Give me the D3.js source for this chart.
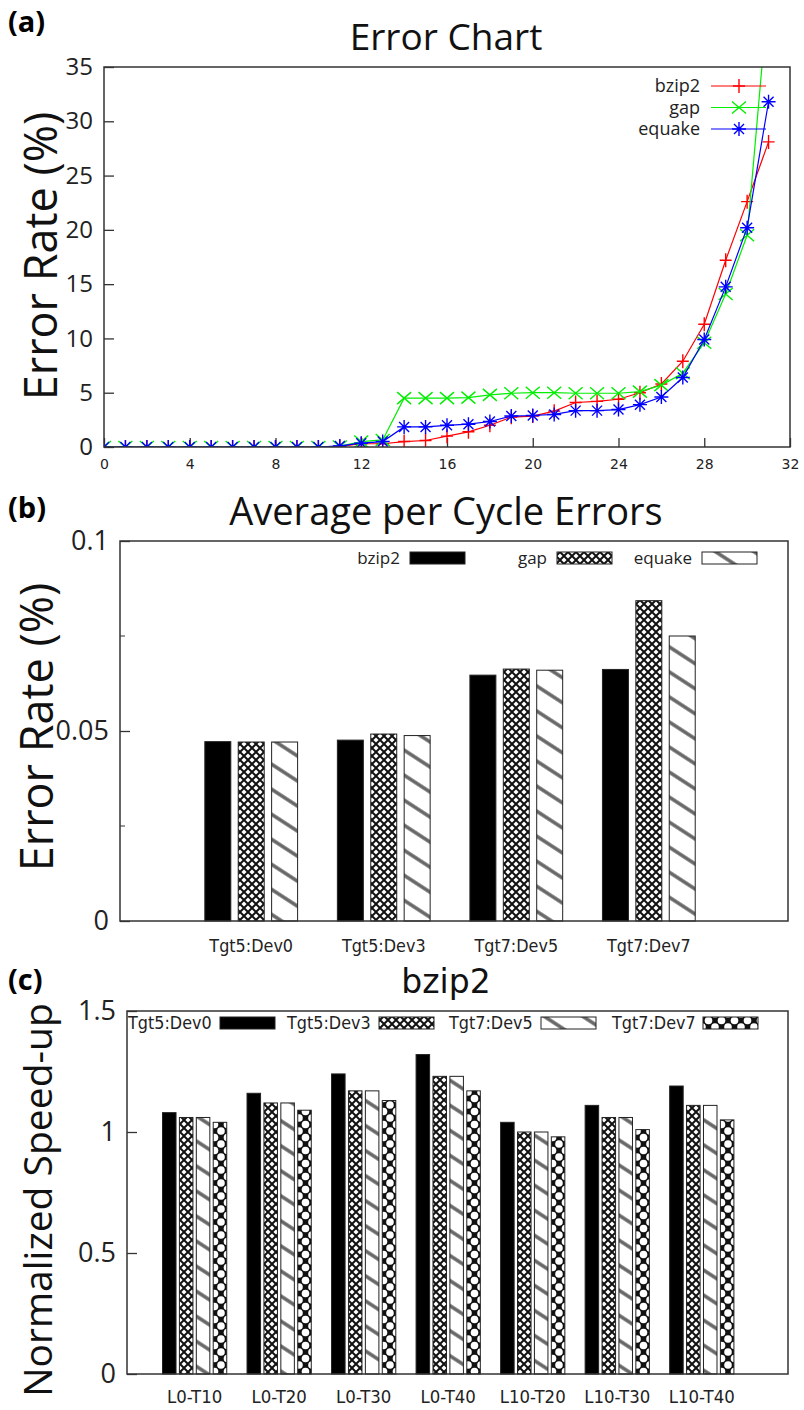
<!DOCTYPE html>
<html>
<head>
<meta charset="utf-8">
<script src="https://cdn.jsdelivr.net/npm/d3@7"></script>
<style>
body { margin: 0; background: #fff; }
svg { display: block; }
</style>
</head>
<body>
<div id="chart"></div>
<script>
// (a) error chart
const errX = [0, 1, 2, 3, 4, 5, 6, 7, 8, 9, 10, 11, 12, 13, 14, 15, 16, 17, 18, 19, 20, 21, 22, 23, 24, 25, 26, 27, 28, 29, 30, 31];
const bzip2Err = [0, 0, 0, 0, 0, 0, 0, 0, 0, 0, 0, 0.05, 0.3, 0.3, 0.5, 0.6, 1.0, 1.4, 2.0, 2.75, 2.85, 3.3, 4.1, 4.2, 4.4, 5.0, 5.8, 7.9, 11.3, 17.2, 22.6, 28.1];
const gapErr = [0, 0, 0, 0, 0, 0, 0, 0, 0, 0, 0, 0.05, 0.5, 0.65, 4.5, 4.5, 4.5, 4.55, 4.8, 4.95, 5.0, 5.0, 4.95, 4.95, 4.95, 5.1, 5.7, 6.8, 9.6, 14.1, 19.5, 42];
const equakeErr = [0, 0, 0, 0, 0, 0, 0, 0, 0, 0, 0, 0.1, 0.35, 0.5, 1.85, 1.85, 2.0, 2.1, 2.35, 2.85, 2.9, 3.0, 3.35, 3.35, 3.45, 3.9, 4.6, 6.4, 9.9, 14.75, 20.2, 31.8];
const errTicksX = [0, 4, 8, 12, 16, 20, 24, 28, 32];
const errTicksY = [0, 5, 10, 15, 20, 25, 30, 35];

// (b) average per cycle errors
const cycleGroups = ["Tgt5:Dev0", "Tgt5:Dev3", "Tgt7:Dev5", "Tgt7:Dev7"];
const cycleBzip2 = [0.0472, 0.0476, 0.0647, 0.0662];
const cycleGap = [0.0471, 0.0492, 0.0663, 0.0843];
const cycleEquake = [0.0471, 0.0488, 0.0660, 0.0750];
const cycleTicks = [0, 0.05, 0.1];
const cycleMinor = [0.025, 0.075];

// (c) bzip2 speed-up
const speedGroups = ["L0-T10", "L0-T20", "L0-T30", "L0-T40", "L10-T20", "L10-T30", "L10-T40"];
const speedDev0 = [1.08, 1.16, 1.24, 1.32, 1.04, 1.11, 1.19];
const speedDev3 = [1.06, 1.12, 1.17, 1.23, 1.00, 1.06, 1.11];
const speedDev5 = [1.06, 1.12, 1.17, 1.23, 1.00, 1.06, 1.11];
const speedDev7 = [1.04, 1.09, 1.13, 1.17, 0.98, 1.01, 1.05];
const speedTicks = [0, 0.5, 1, 1.5];

const W = 804, H = 1410;
const sans = "'Open Sans', 'DejaVu Sans', sans-serif";
const narrow = "'DejaVu Sans', sans-serif";
const inkText = "#222";

const svg = d3.select("#chart").append("svg")
    .attr("width", W)
    .attr("height", H);

//patterns used by the bars
const defs = svg.append("defs");
let pGap = defs.append("pattern")
    .attr("id", "pGap")
    .attr("patternUnits", "userSpaceOnUse")
    .attr("width", 8)
    .attr("height", 8);
pGap.append("rect").attr("width", 8).attr("height", 8).attr("fill", "#fff");
pGap.append("path")
    .attr("d", "M0,0 L8,8 M8,0 L0,8")
    .attr("stroke", "#111")
    .attr("stroke-width", 2);

let pStripe = defs.append("pattern")
    .attr("id", "pStripe")
    .attr("patternUnits", "userSpaceOnUse")
    .attr("width", 21)
    .attr("height", 21)
    .attr("patternTransform", "rotate(33)");
pStripe.append("rect").attr("width", 21).attr("height", 21).attr("fill", "#fff");
pStripe.append("line")
    .attr("x1", 0).attr("y1", 10)
    .attr("x2", 21).attr("y2", 10)
    .attr("stroke", "#666")
    .attr("stroke-width", 3.5);

let pBig = defs.append("pattern")
    .attr("id", "pBig")
    .attr("patternUnits", "userSpaceOnUse")
    .attr("width", 13)
    .attr("height", 13);
pBig.append("rect").attr("width", 13).attr("height", 13).attr("fill", "#111");
[[6.5, 6.5], [0, 0], [13, 0], [0, 13], [13, 13]].forEach(c => {
    pBig.append("circle")
        .attr("cx", c[0]).attr("cy", c[1])
        .attr("r", 3.8)
        .attr("fill", "#fff");
});

//squeeze text horizontally, the original uses a condensed face
function condense(sel, k) {
    sel.each(function() {
        let len = this.getComputedTextLength();
        d3.select(this)
            .attr("textLength", len * k)
            .attr("lengthAdjust", "spacingAndGlyphs");
    });
}

function panelLetter(txt, y) {
    svg.append("text")
        .attr("x", 8)
        .attr("y", y)
        .attr("font-family", sans)
        .attr("font-weight", "bold")
        .attr("font-size", 29)
        .attr("fill", "#000")
        .text(txt);
}

function title(txt, y, size, family) {
    svg.append("text")
        .attr("x", 446)
        .attr("y", y)
        .attr("text-anchor", "middle")
        .attr("font-family", family || sans)
        .attr("font-size", size)
        .attr("fill", "#111")
        .text(txt);
}

function yLabel(txt, x, cy, size) {
    svg.append("text")
        .attr("transform", "translate(" + x + "," + cy + ") rotate(-90)")
        .attr("text-anchor", "middle")
        .attr("font-family", sans)
        .attr("font-size", size)
        .attr("fill", "#111")
        .text(txt);
}

function frame(g, x0, y0, x1, y1) {
    g.append("rect")
        .attr("x", x0).attr("y", y0)
        .attr("width", x1 - x0).attr("height", y1 - y0)
        .attr("fill", "none")
        .attr("stroke", "#333")
        .attr("stroke-width", 1.5);
}

function leftAxis(g, y, ticks, fmt, x0, size) {
    let ax = g.append("g")
        .attr("transform", "translate(" + x0 + ",0)")
        .call(d3.axisLeft(y).tickValues(ticks).tickFormat(fmt).tickSize(-10).tickPadding(11));
    ax.select(".domain").remove();
    ax.selectAll("line").attr("stroke", "#333").attr("stroke-width", 1.3);
    ax.selectAll("text")
        .attr("font-family", sans)
        .attr("font-size", size)
        .attr("fill", inkText);
    return ax;
}

// ---------- (a) ----------
function drawErrorChart() {
    const left = 104, right = 790, top = 67, bottom = 447;
    const x = d3.scaleLinear().domain([0, 32]).range([left, right]);
    const y = d3.scaleLinear().domain([0, 35]).range([bottom, top]);
    const g = svg.append("g");

    panelLetter("(a)", 32);
    title("Error Chart", 50, 37);
    yLabel("Error Rate (%)", 57, 256, 45);

    leftAxis(g, y, errTicksY, d3.format("d"), left, 24);
    let ax = g.append("g")
        .attr("transform", "translate(0," + bottom + ")")
        .call(d3.axisBottom(x).tickValues(errTicksX).tickSize(-9).tickPadding(12));
    ax.select(".domain").remove();
    ax.selectAll("line").attr("stroke", "#333").attr("stroke-width", 1.3);
    ax.selectAll("text")
        .attr("font-family", "'DejaVu Sans', sans-serif")
        .attr("font-size", 14)
        .attr("fill", inkText);

    defs.append("clipPath").attr("id", "clipA")
        .append("rect")
        .attr("x", left).attr("y", top)
        .attr("width", right - left).attr("height", bottom - top);

    const series = [
        { name: "bzip2", vals: bzip2Err, color: "#ff0000", mark: "M-6,0H6M0,-7V7" },
        { name: "gap", vals: gapErr, color: "#00ee00", mark: "M-7,-6L7,6M7,-6L-7,6" },
        { name: "equake", vals: equakeErr, color: "#0000ff", mark: "M-7,0H7M0,-7V7M-5,-5L5,5M5,-5L-5,5" }
    ];
    const line = d3.line().x((d, i) => x(errX[i])).y(d => y(d));
    const plot = g.append("g").attr("clip-path", "url(#clipA)");
    series.forEach(s => {
        plot.append("path")
            .attr("d", line(s.vals))
            .attr("fill", "none")
            .attr("stroke", s.color)
            .attr("stroke-width", 1.2);
        plot.selectAll(null)
            .data(s.vals)
            .enter()
            .append("path")
            .attr("transform", (d, i) => "translate(" + x(errX[i]) + "," + y(d) + ")")
            .attr("d", s.mark)
            .attr("stroke", s.color)
            .attr("stroke-width", 1.4)
            .attr("fill", "none");
    });

    //legend
    series.forEach((s, i) => {
        let ly = 86 + i * 21.5;
        g.append("text")
            .attr("x", 700).attr("y", ly)
            .attr("dy", "0.35em")
            .attr("text-anchor", "end")
            .attr("font-family", sans)
            .attr("font-size", 18)
            .attr("fill", inkText)
            .text(s.name);
        g.append("line")
            .attr("x1", 711).attr("x2", 766)
            .attr("y1", ly).attr("y2", ly)
            .attr("stroke", s.color)
            .attr("stroke-width", 1.2);
        g.append("path")
            .attr("transform", "translate(739," + ly + ")")
            .attr("d", s.mark)
            .attr("stroke", s.color)
            .attr("stroke-width", 1.4)
            .attr("fill", "none");
    });

    frame(g, left, top, right, bottom);
}

// ---------- (b) ----------
function drawCycleChart() {
    const left = 120, right = 788, top = 541, bottom = 921;
    const x = d3.scaleLinear().domain([-0.99, 4.05]).range([left, right]);
    const y = d3.scaleLinear().domain([0, 0.1]).range([bottom, top]);
    const g = svg.append("g");

    panelLetter("(b)", 518);
    title("Average per Cycle Errors", 525, 38);
    yLabel("Error Rate (%)", 53, 727, 45);

    leftAxis(g, y, cycleTicks, d => d === 0 ? "0" : String(d), left, 27);
    cycleMinor.forEach(v => {
        g.append("line")
            .attr("x1", left).attr("x2", left + 5)
            .attr("y1", y(v)).attr("y2", y(v))
            .attr("stroke", "#333");
    });

    const series = [
        { name: "bzip2", vals: cycleBzip2, fill: "#000", textEnd: 400, box: 410 },
        { name: "gap", vals: cycleGap, fill: "url(#pGap)", textEnd: 547, box: 557 },
        { name: "equake", vals: cycleEquake, fill: "url(#pStripe)", textEnd: 692, box: 702 }
    ];
    const bw = x(0.196) - x(0);
    series.forEach((s, k) => {
        g.selectAll(null)
            .data(s.vals)
            .enter()
            .append("rect")
            .attr("x", (d, i) => x(i + (k - 1) * 0.252) - bw / 2)
            .attr("y", d => y(d))
            .attr("width", bw)
            .attr("height", d => bottom - y(d))
            .attr("fill", s.fill)
            .attr("stroke", "#222")
            .attr("stroke-width", 1);
        g.append("text")
            .attr("x", s.textEnd).attr("y", 558)
            .attr("dy", "0.35em")
            .attr("text-anchor", "end")
            .attr("font-family", sans)
            .attr("font-size", 17)
            .attr("fill", inkText)
            .text(s.name);
        g.append("rect")
            .attr("x", s.box).attr("y", 552)
            .attr("width", 55).attr("height", 12)
            .attr("fill", s.fill)
            .attr("stroke", "#222");
    });

    g.selectAll(null)
        .data(cycleGroups)
        .enter()
        .append("text")
        .attr("x", (d, i) => x(i))
        .attr("y", 946)
        .attr("dy", "0.35em")
        .attr("text-anchor", "middle")
        .attr("font-family", narrow)
        .attr("font-size", 18)
        .attr("fill", inkText)
        .text(d => d)
        .call(condense, 0.89);

    frame(g, left, top, right, bottom);
}

// ---------- (c) ----------
function drawSpeedChart() {
    const left = 127, right = 788, top = 1011, bottom = 1374;
    const x = d3.scaleLinear().domain([-0.8, 7.02]).range([left, right]);
    const y = d3.scaleLinear().domain([0, 1.5]).range([bottom, top]);
    const g = svg.append("g");

    panelLetter("(c)", 990);
    title("bzip2", 993, 33, narrow);
    yLabel("Normalized Speed-up", 52, 1200, 39);

    leftAxis(g, y, speedTicks, d => String(d), left, 27);

    const series = [
        { name: "Tgt5:Dev0", vals: speedDev0, fill: "#000", text: 128, box: 220 },
        { name: "Tgt5:Dev3", vals: speedDev3, fill: "url(#pGap)", text: 287, box: 379 },
        { name: "Tgt7:Dev5", vals: speedDev5, fill: "url(#pStripe)", text: 449, box: 541 },
        { name: "Tgt7:Dev7", vals: speedDev7, fill: "url(#pBig)", text: 612, box: 703 }
    ];
    const bw = x(0.16) - x(0);
    series.forEach((s, k) => {
        g.selectAll(null)
            .data(s.vals)
            .enter()
            .append("rect")
            .attr("x", (d, i) => x(i + (k - 1.5) * 0.2) - bw / 2)
            .attr("y", d => y(d))
            .attr("width", bw)
            .attr("height", d => bottom - y(d))
            .attr("fill", s.fill)
            .attr("stroke", "#222")
            .attr("stroke-width", 1);
        g.append("text")
            .attr("x", s.text).attr("y", 1023)
            .attr("dy", "0.35em")
            .attr("font-family", narrow)
            .attr("font-size", 18)
            .attr("fill", inkText)
            .text(s.name)
            .call(condense, 0.89);
        g.append("rect")
            .attr("x", s.box).attr("y", 1017)
            .attr("width", 55).attr("height", 12)
            .attr("fill", s.fill)
            .attr("stroke", "#222");
    });

    g.selectAll(null)
        .data(speedGroups)
        .enter()
        .append("text")
        .attr("x", (d, i) => x(i))
        .attr("y", 1397)
        .attr("dy", "0.35em")
        .attr("text-anchor", "middle")
        .attr("font-family", narrow)
        .attr("font-size", 18)
        .attr("fill", inkText)
        .text(d => d)
        .call(condense, 0.92);

    frame(g, left, top, right, bottom);
}

drawErrorChart();
drawCycleChart();
drawSpeedChart();
</script>
</body>
</html>
